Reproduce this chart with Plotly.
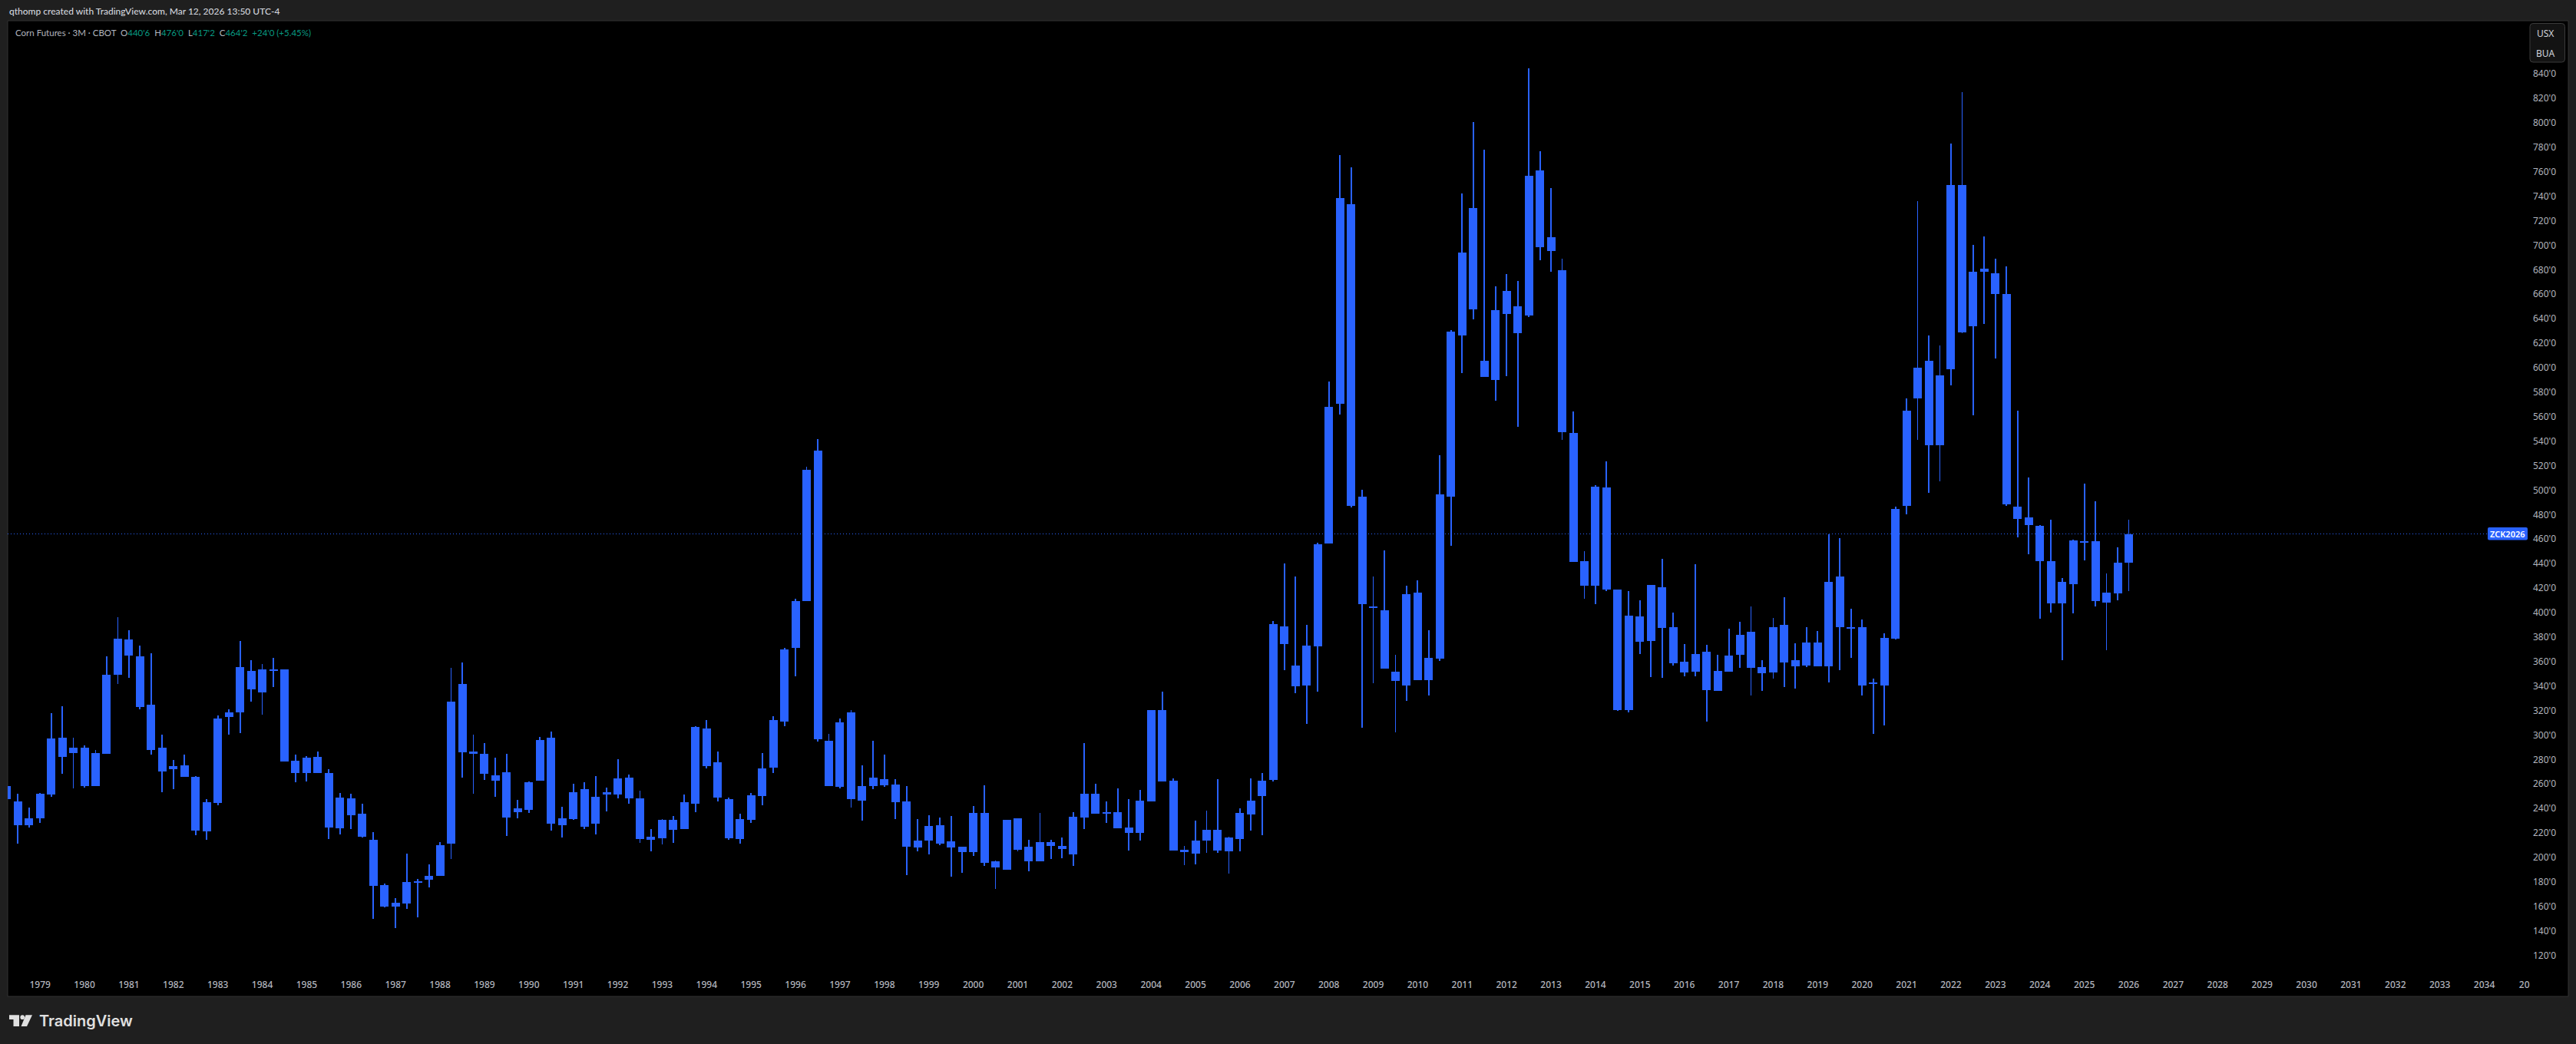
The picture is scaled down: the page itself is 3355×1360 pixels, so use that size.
import plotly.graph_objects as go

# Quarterly candles, first bar = 1978 Q2, last bar = 2026 Q1 (prices in cents)
highs = [258.2,251.9,240.6,252.5,317.7,323.4,297.6,291.4,287.6,364.1,396.1,385.4,372.9,366.6,300.1,279.5,283.9,266.3,247.5,315.8,
320.9,376.7,361.0,357.9,362.9,353.5,283.9,282.6,286.4,271.9,252.5,251.9,243.7,220.5,178.5,166.6,203.0,182.3,194.1,212.3,
354.9,359.1,300.2,293.4,281.5,284.4,246.9,262.0,298.4,302.6,241.4,260.1,261.4,266.4,256.9,280.2,267.5,254.3,223.2,231.1,
233.7,251.4,307.1,312.1,286.5,248.8,235.6,252.5,285.2,315.3,370.9,411.1,519.0,541.4,300.8,313.3,320.2,275.1,295.1,283.9,
263.8,258.2,231.2,234.3,232.5,233.7,208.6,241.9,258.8,197.3,230.6,231.8,214.3,236.2,214.3,216.1,236.8,293.3,260.0,245.6,
256.3,247.5,255.0,320.2,335.3,264.4,209.2,229.9,238.1,263.8,216.8,240.0,264.4,268.8,393.0,439.9,429.3,389.7,457.2,588.7,
773.6,763.9,500.0,429.3,450.5,365.4,421.7,426.5,385.5,528.8,630.6,742.2,800.5,777.9,666.4,676.3,670.6,844.4,776.8,746.7,
688.8,564.0,450.1,503.9,523.4,418.7,417.4,409.9,422.4,443.7,399.9,374.1,439.3,373.5,365.4,386.7,392.3,404.9,361.0,395.5,
412.4,374.8,387.9,384.8,464.2,460.7,403.0,394.2,345.9,382.9,486.4,574.8,735.8,626.3,617.9,782.9,825.0,700.2,707.1,689.0,
683.0,564.9,510.3,471.3,475.6,427.9,459.4,505.3,491.2,431.7,453.2,476.0]

body_tops = [258.2,245.6,231.8,251.9,297.0,297.6,289.5,289.5,285.1,349.1,378.5,377.9,364.1,324.6,289.5,274.4,275.1,265.7,245.0,313.3,
318.4,355.3,352.2,353.5,353.5,353.5,278.9,281.4,282.0,268.8,248.8,248.1,235.6,214.3,177.3,162.9,179.8,179.8,184.9,210.0,
327.1,341.6,286.5,284.4,267.0,269.3,240.0,261.4,295.7,297.6,231.9,253.2,255.6,249.3,251.9,264.3,265.1,248.2,216.8,230.6,
230.6,245.1,306.6,305.2,277.5,247.4,231.1,250.6,272.5,312.1,369.9,409.2,516.4,532.2,295.2,310.2,318.4,258.2,265.1,263.8,
259.4,245.6,213.6,225.5,226.2,213.0,208.6,236.2,236.2,196.7,230.6,231.8,208.6,212.4,212.4,209.2,233.1,251.9,251.9,236.8,
236.8,224.3,246.2,320.2,320.2,262.5,206.1,213.6,222.4,222.4,216.1,236.2,246.2,262.5,390.5,388.4,357.0,373.3,455.6,567.9,
738.4,733.3,494.6,404.7,401.8,351.6,414.9,416.2,362.8,496.5,629.3,693.9,730.4,605.6,646.9,662.6,650.1,756.6,761.1,706.4,
679.5,546.4,441.8,502.6,502.0,418.7,397.4,396.7,422.4,420.5,387.9,359.7,366.0,367.9,352.2,364.7,381.7,384.2,355.3,387.9,
389.8,361.0,375.4,375.4,424.9,429.3,387.9,387.9,342.2,379.2,484.5,564.9,599.8,605.4,593.5,749.2,749.2,678.1,680.6,677.4,
660.0,486.3,477.5,470.7,442.0,424.8,458.8,457.9,458.2,416.1,440.7,464.25]

body_bottoms = [247.5,226.2,226.2,231.8,251.3,282.0,285.1,258.2,258.2,284.5,349.1,364.8,322.7,287.6,270.1,271.9,265.7,221.8,221.1,244.4,
314.6,318.4,337.2,334.7,352.2,278.2,268.8,268.8,268.8,224.3,223.7,234.3,216.8,176.6,159.7,159.7,162.2,179.2,181.7,184.9,
211.0,285.7,284.4,268.3,262.5,232.4,236.9,238.7,262.5,227.4,226.1,231.1,225.0,227.4,251.4,251.4,248.2,215.0,214.2,215.5,
222.4,223.2,243.7,274.4,248.8,215.5,215.0,230.6,250.1,273.3,310.8,370.9,409.2,296.5,258.3,257.5,247.5,246.2,258.2,258.8,
245.0,208.6,208.0,213.6,211.1,208.0,204.2,204.2,195.5,191.7,189.8,206.1,196.7,196.7,209.2,206.7,202.4,232.5,235.6,235.6,
223.7,219.9,219.9,245.6,261.9,205.5,204.2,203.0,213.6,205.5,204.9,214.9,235.0,250.0,263.2,374.0,339.8,340.4,372.7,456.2,
570.4,486.9,406.6,403.7,354.2,343.9,340.7,344.6,344.6,362.2,494.6,626.1,647.5,592.2,590.0,643.7,628.0,642.4,698.4,695.2,
547.1,441.2,421.7,421.7,418.8,320.2,320.2,376.0,376.6,387.3,358.5,350.9,351.6,336.5,335.9,351.6,365.4,354.7,350.3,350.9,
359.1,356.0,356.6,356.0,356.0,387.9,386.7,340.3,341.5,340.3,378.5,486.9,574.8,536.5,536.5,598.5,628.8,633.8,678.1,660.0,
488.1,476.3,471.3,442.0,407.4,407.4,422.9,456.9,409.2,407.9,415.5,440.75]

lows = [247.5,211.1,224.3,228.1,249.4,268.2,256.3,256.9,258.2,284.5,341.6,346.6,320.9,283.9,253.1,255.7,265.7,218.0,214.3,242.5,
300.1,301.4,327.1,316.5,339.0,278.2,261.3,261.9,268.8,214.9,218.7,223.0,216.1,149.7,159.1,142.1,157.8,150.9,175.4,184.9,
198.6,265.0,251.9,263.3,249.3,217.4,231.9,236.1,262.5,221.8,216.0,230.6,223.2,218.7,237.4,248.2,243.7,211.8,205.0,210.5,
211.8,223.2,236.9,272.5,245.6,214.2,211.0,228.2,242.4,268.8,307.1,347.7,409.2,294.4,258.3,256.3,240.6,229.9,255.6,257.5,
231.2,185.4,204.9,202.4,209.9,184.2,187.3,201.1,192.9,174.1,189.8,204.9,188.6,196.7,198.6,199.2,192.9,223.0,235.6,228.1,
223.7,205.5,213.6,245.6,261.9,205.5,193.6,194.2,203.6,203.6,186.7,204.9,221.8,218.0,261.9,352.9,334.0,309.1,335.3,456.2,
561.5,485.6,305.9,342.0,354.2,302.0,327.6,344.6,332.1,360.2,454.3,595.4,639.2,592.2,573.0,592.8,551.6,641.1,687.5,678.2,
541.0,441.2,411.1,406.6,417.5,319.6,318.4,366.0,347.2,346.6,356.6,347.8,347.8,310.8,335.9,351.6,354.7,332.1,335.9,345.9,
339.0,337.8,355.3,356.0,342.8,352.8,362.9,332.1,300.8,307.7,377.9,480.0,540.8,497.5,507.2,585.4,628.2,561.4,635.6,607.3,
486.9,461.3,447.6,394.9,399.9,360.9,399.2,442.6,404.9,369.0,409.8,417.25]

years = list(range(1979, 2035))
price_ticks = list(range(120, 860, 20))
last_price = 464.25

W, H = 3355, 1360
L, R, T, B = 10, 3293, 27, 1274
BAR0, STEP = 8.73, 14.47
BLUE = "#2962ff"

def px(x):
    return (x - L) / (R - L)

def py(y):
    return (B - y) / (B - T)

def rect_path(x0, y0, x1, y1, r):
    a, b, c, d = px(x0), py(y0), px(x1), py(y1)
    rx, ry = r / (R - L), r / (B - T)
    return (f"M{a+rx},{b} L{c-rx},{b} Q{c},{b} {c},{b-ry} L{c},{d+ry} Q{c},{d} {c-rx},{d} "
            f"L{a+rx},{d} Q{a},{d} {a},{d+ry} L{a},{b-ry} Q{a},{b} {a+rx},{b} Z")

idx = list(range(len(highs)))
fig = go.Figure()
fig.add_trace(go.Bar(x=idx, base=lows, y=[h - l for h, l in zip(highs, lows)],
                     width=0.06, marker=dict(color=BLUE, line_width=0), hoverinfo="skip"))
fig.add_trace(go.Bar(x=idx, base=body_bottoms, y=[max(t - b, 1.6) for t, b in zip(body_tops, body_bottoms)],
                     width=0.76, marker=dict(color=BLUE, line_width=0), hoverinfo="skip"))

tick_idx = [(y - 1979) * 4 + 3 for y in years] + [226.6]
tick_txt = [str(y) for y in years] + ["20"]

shapes = [
    dict(type="rect", xref="paper", yref="paper", x0=px(10), x1=px(3345), y0=py(27), y1=py(1298),
         fillcolor="#000000", line=dict(color="#333333", width=1), layer="below"),
    dict(type="line", xref="paper", yref="y", x0=0, x1=px(3240), y0=last_price, y1=last_price,
         line=dict(color=BLUE, width=1, dash="1px,3px"), layer="below"),
    dict(type="path", xref="paper", yref="paper", path=rect_path(3240, 687, 3292, 703.5, 2),
         fillcolor=BLUE, line_width=0),
    dict(type="path", xref="paper", yref="paper", path=rect_path(3295, 30.5, 3340.5, 81, 4),
         fillcolor="#131313", line=dict(color="#3a3a3a", width=1)),
    # TradingView mark
    dict(type="path", xref="paper", yref="paper",
         path=f"M{px(12)},{py(1322.3)} L{px(25)},{py(1322.3)} L{px(25)},{py(1337)} L{px(17.5)},{py(1337)} "
              f"L{px(17.5)},{py(1328)} L{px(12)},{py(1328)} Z", fillcolor="#e0e0e0", line_width=0),
    dict(type="circle", xref="paper", yref="paper", x0=px(26.4), x1=px(32), y0=py(1322.3), y1=py(1328),
         fillcolor="#e0e0e0", line_width=0),
    dict(type="path", xref="paper", yref="paper",
         path=f"M{px(33.5)},{py(1322.3)} L{px(42)},{py(1322.3)} L{px(35)},{py(1337)} L{px(27.5)},{py(1337)} Z",
         fillcolor="#e0e0e0", line_width=0),
]

def label(x, y, text, size, color, anchor="left", family="Lato", weight=None):
    f = dict(family=family, size=size, color=color)
    if weight:
        f["weight"] = weight
    return dict(xref="paper", yref="paper", x=px(x), y=py(y), text=text, showarrow=False,
                xanchor=anchor, yanchor="middle", font=f, align=anchor)

GREY = "#b2b5be"
TEAL = "#089981"
def pair(k, v):
    return f"<span style='color:{GREY}'>{k}</span><span style='color:{TEAL}'>{v}</span>"

legend_text = (f"<span style='color:{GREY}'>Corn Futures · 3M · CBOT</span>\u00a0\u00a0"
               + "\u00a0\u00a0".join([pair("O", "440'6"), pair("H", "476'0"), pair("L", "417'2"), pair("C", "464'2")])
               + f"\u00a0\u00a0<span style='color:{TEAL}'>+24'0 (+5.45%)</span>")

annotations = [
    label(10, 15, "qthomp created with TradingView.com, Mar 12, 2026 13:50 UTC-4", 12, "#d1d4dc", weight=500),
    label(18, 42, legend_text, 11.5, GREY),
    label(3266, 695.3, "ZCK2026", 11, "#ffffff", "center", family="Noto Sans", weight=600),
    label(3315, 43.5, "USX", 12, "#d1d4dc", "center", family="Noto Sans"),
    label(3315, 70, "BUA", 12, "#d1d4dc", "center", family="Noto Sans"),
    label(49, 1330, "TradingView", 20, "#e0e0e0", family="Inter", weight=600),
]

fig.update_layout(
    width=W, height=H, autosize=False,
    margin=dict(l=L, r=W - R, t=T, b=H - B, pad=0),
    paper_bgcolor="#1f1f1f", plot_bgcolor="rgba(0,0,0,0)",
    barmode="overlay", showlegend=False, bargap=0,
    shapes=shapes, annotations=annotations,
    xaxis=dict(range=[(L - BAR0) / STEP, (R - BAR0) / STEP], tickmode="array", tickvals=tick_idx, ticktext=tick_txt,
               showgrid=False, zeroline=False, showline=False, ticks="", ticklen=0,
               tickfont=dict(family="Noto Sans", size=12, color=GREY, weight=500), tickangle=0, fixedrange=True),
    yaxis=dict(range=[101.56, 883.36], side="right", tickmode="array", tickvals=price_ticks,
               ticktext=[f"{p}'0" for p in price_ticks],
               showgrid=False, zeroline=False, showline=False, ticks="", ticklen=0, ticklabelstandoff=5,
               tickfont=dict(family="Noto Sans", size=12, color=GREY), fixedrange=True),
)

fig.write_html("out.html", config=dict(displayModeBar=False),
               post_script="document.body.style.margin='0';document.body.style.background='#1f1f1f';")
